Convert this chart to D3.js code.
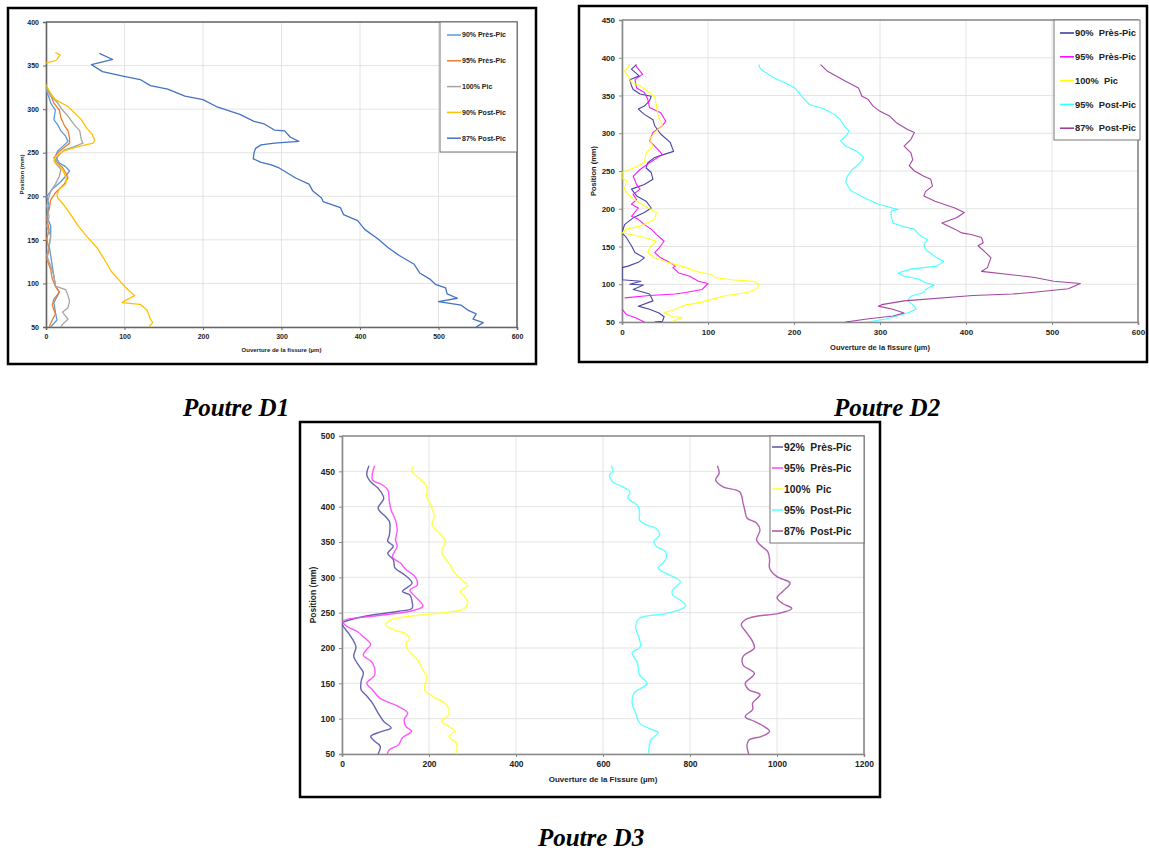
<!DOCTYPE html>
<html><head><meta charset="utf-8">
<script src="https://cdn.jsdelivr.net/npm/d3@7"></script>
<style>body{margin:0;background:#fff}svg{display:block}</style>
</head><body>
<svg id="c" width="1149" height="852"></svg>
<script>
// ---------- DATA : [position (mm), ouverture (µm)] ----------
// Poutre D1
const d1Labels = ["90% Près-Pic","95% Près-Pic","100% Pic","90% Post-Pic","87% Post-Pic"];
const d1_90pre = [[322,0],[313,4],[307,6],[299,12],[288,10],[282,15],[275,19],[269,25],[263,28],[257,21],[252,15],[246,12],[238,17],[234,25],[229,30],[223,25],[217,19],[208,8],[200,1],[189,4],[177,1],[166,6],[154,6],[143,4],[132,6],[120,8],[109,10],[97,12],[90,17],[78,10],[67,12],[58,14],[50,6]];
const d1_95pre = [[325,0],[316,6],[307,10],[299,17],[290,19],[282,23],[275,28],[267,30],[261,30],[256,23],[250,15],[244,10],[238,15],[233,21],[227,25],[221,28],[214,23],[204,12],[196,6],[185,4],[174,1],[162,4],[151,1],[139,4],[128,1],[116,6],[105,8],[97,12],[90,17],[82,10],[75,8],[65,12],[58,8],[50,4]];
const d1_100 = [[324,0],[315,6],[307,15],[299,21],[292,28],[282,36],[275,43],[265,45],[261,47],[257,36],[253,23],[246,15],[238,12],[231,19],[223,17],[214,12],[206,6],[200,4],[189,1],[177,4],[166,1],[154,6],[143,4],[132,1],[120,6],[109,10],[97,12],[93,25],[86,28],[80,30],[72,28],[67,21],[59,28],[53,21],[50,19]];
const d1_90post = [[365,12],[362,18],[360,16],[357,14],[355,10],[353,0],null,[328,0],[318,6],[311,12],[303,28],[296,36],[288,45],[278,52],[271,59],[264,62],[261,60],[257,41],[252,23],[246,12],[240,10],[235,17],[227,23],[220,26],[214,25],[208,17],[202,14],[198,15],[192,21],[181,30],[166,41],[154,52],[141,65],[128,74],[114,83],[103,94],[93,104],[86,113],[80,100],[78,97],[76,120],[69,129],[59,133],[55,136],[50,131]];
const d1_87post = [[364,68],[357,85],[351,58],[343,72],[338,98],[334,120],[327,133],[323,155],[315,177],[311,200],[303,217],[294,247],[286,265],[283,278],[276,291],[275,304],[268,311],[263,322],[261,291],[259,274],[255,267],[250,265],[243,264],[239,274],[236,287],[233,296],[227,307],[221,318],[214,335],[206,340],[198,351],[194,353],[187,375],[179,379],[172,397],[162,406],[151,423],[141,436],[132,450],[122,469],[112,476],[105,489],[99,496],[95,509],[88,511],[83,524],[79,500],[75,529],[69,538],[65,548],[59,544],[55,557],[50,548]];
const d1XTicks = [0,100,200,300,400,500,600];
const d1YTicks = [50,100,150,200,250,300,350,400];

// Poutre D2
const d2Labels = ["90%  Près-Pic","95%  Près-Pic","100%  Pic","95%  Post-Pic","87%  Post-Pic"];
const d2_90pre = [[391,17],[385,11],[376,20],[371,9],[363,11],[358,13],[352,21],[349,34],[343,32],[336,26],[332,19],[325,26],[318,36],[310,38],[299,45],[288,56],[276,60],[272,49],[268,38],[261,30],[254,28],[248,34],[239,36],[232,26],[226,11],[217,17],[210,28],[201,34],[195,26],[188,13],[179,3],[168,0],[162,5],[151,11],[142,15],[135,26],[129,19],[124,7],[122,0],[106,0],[104,22],[100,9],[99,25],[93,13],[89,26],[87,32],[78,36],[71,19],[67,32],[62,43],[57,49],[51,47],[50,38]];
const d2_95pre = [[391,15],[378,24],[371,15],[360,17],[354,26],[345,30],[334,32],[327,45],[316,51],[310,47],[301,36],[290,32],[283,38],[272,47],[261,32],[252,21],[243,13],[232,17],[226,21],[219,13],[212,17],[206,11],[201,19],[190,11],[186,19],[179,26],[173,34],[166,40],[157,49],[148,43],[142,38],[135,45],[129,55],[124,62],[122,59],[115,66],[111,78],[104,89],[101,100],[93,93],[89,74],[87,62],[85,32],[82,3],null,[67,0],[60,5],[56,15],[50,26]];
const d2_100 = [[391,9],[382,3],[376,7],[367,11],[363,21],[354,32],[349,38],[336,40],[323,42],[310,47],[301,38],[292,32],[283,36],[274,28],[261,26],[254,13],[248,0],[241,0],[237,5],[226,3],[219,7],[210,17],[199,34],[195,40],[186,38],[177,21],[173,5],[168,0],[166,11],[162,26],[157,40],[148,32],[142,30],[135,38],[129,53],[122,75],[117,87],[113,104],[109,108],[106,127],[104,152],[100,159],[94,157],[89,146],[85,121],[80,104],[76,91],[72,72],[67,62],[62,49],[57,59],[56,70],[50,57]];
const d2_95post = [[391,159],[385,161],[374,176],[365,193],[360,201],[349,209],[338,218],[332,235],[325,247],[318,254],[310,258],[303,264],[296,260],[290,254],[283,260],[276,273],[268,281],[261,277],[252,268],[243,262],[235,260],[224,266],[215,281],[206,298],[199,321],[197,313],[190,313],[181,315],[176,328],[173,340],[166,345],[159,355],[153,351],[146,353],[135,366],[130,374],[124,366],[120,336],[115,321],[111,328],[107,345],[102,353],[99,363],[93,353],[89,351],[84,336],[78,332],[73,338],[67,342],[62,332],[54,307],[50,285]];
const d2_87post = [[391,231],[382,239],[369,260],[360,275],[349,279],[345,286],[336,292],[329,300],[323,311],[314,319],[305,332],[301,340],[292,336],[283,328],[274,336],[265,338],[257,334],[250,340],[243,351],[239,359],[230,361],[223,353],[217,351],[210,364],[201,387],[195,398],[188,389],[181,372],[173,387],[168,395],[166,406],[162,418],[155,420],[151,414],[142,423],[135,429],[129,427],[122,425],[117,418],[113,450],[109,480],[104,502],[101,533],[94,519],[89,476],[87,454],[85,408],[78,328],[73,302],[71,298],[67,315],[62,328],[58,315],[54,285],[50,260]];
const d2XTicks = [0,100,200,300,400,500,600];
const d2YTicks = [50,100,150,200,250,300,350,400,450];

// Poutre D3
const d3Labels = ["92%  Près-Pic","95%  Près-Pic","100%  Pic","95%  Post-Pic","87%  Post-Pic"];
const d3_92pre = [[458,62],[445,57],[435,66],[426,83],[412,96],[398,83],[386,100],[379,109],[360,109],[351,105],[344,118],[334,105],[325,118],[313,122],[304,143],[292,161],[280,139],[275,156],[266,161],[256,161],[252,130],[245,53],[240,19],[235,0],[228,6],[221,15],[202,32],[188,27],[174,40],[165,49],[153,44],[141,44],[132,57],[122,70],[108,83],[96,96],[87,113],[82,92],[75,66],[68,75],[61,88],[50,83]];
const d3_95pre = [[458,75],[447,70],[438,70],[431,92],[424,105],[407,109],[395,113],[381,123],[367,127],[353,123],[344,127],[329,116],[320,135],[311,147],[301,168],[289,173],[282,156],[273,168],[259,186],[252,156],[245,70],[238,2],[231,10],[223,36],[216,49],[205,66],[198,57],[190,49],[179,70],[162,75],[150,57],[141,70],[129,87],[117,130],[108,151],[99,143],[89,147],[82,160],[73,139],[63,130],[56,109],[50,104]];
const d3_100 = [[458,165],[450,160],[440,178],[428,195],[414,195],[402,204],[386,212],[374,207],[362,225],[351,237],[336,229],[320,246],[306,259],[296,276],[289,289],[280,272],[273,281],[266,289],[256,281],[252,259],[245,156],[240,113],[233,100],[226,118],[221,143],[214,156],[207,147],[197,152],[183,174],[169,186],[160,195],[141,190],[129,216],[120,240],[106,246],[96,229],[89,246],[82,259],[75,246],[65,263],[50,263]];
const d3_95post = [[458,619],[450,623],[445,615],[435,623],[428,645],[421,662],[412,657],[402,679],[391,684],[381,684],[374,701],[369,722],[360,730],[351,717],[344,722],[336,744],[325,744],[313,727],[306,744],[294,778],[282,760],[275,760],[266,782],[259,790],[249,747],[242,684],[230,675],[212,684],[202,686],[197,675],[193,667],[179,679],[162,684],[150,701],[136,671],[122,667],[108,675],[94,684],[84,714],[80,727],[70,710],[50,705]];
const d3_87post = [[458,863],[447,867],[438,859],[428,876],[421,914],[405,922],[395,926],[384,931],[377,953],[367,961],[353,953],[346,961],[336,979],[325,983],[313,983],[301,1000],[292,1030],[280,1013],[271,1000],[263,1013],[256,1034],[249,1004],[245,953],[240,927],[233,918],[221,931],[209,944],[200,948],[188,922],[176,922],[164,948],[150,927],[141,935],[134,961],[122,944],[113,944],[103,927],[96,948],[89,970],[82,983],[75,965],[70,936],[63,931],[50,935]];
const d3XTicks = [0,200,400,600,800,1000,1200];
const d3YTicks = [50,100,150,200,250,300,350,400,450,500];

const titles = ["Poutre D1","Poutre D2","Poutre D3"];
const xTitles = ["Ouverture de la fissure (µm)","Ouverture de la fissure (µm)","Ouverture de la Fissure (µm)"];
const yTitle = "Position (mm)";

// ---------- STYLES ----------
const d1Colors = ["#5B9BD5","#ED7D31","#A5A5A5","#FFC000","#4472C4"];
const d2Colors = ["#333399","#FF00FF","#FFFF00","#33FFFF","#993399"];
const d3Colors = ["#5555A6","#FF44FF","#FFFF33","#55FFFF","#A850A8"];

const svg = d3.select("#c");
const FONT = "'Liberation Sans', Arial, sans-serif";
let clipId = 0;

function drawChart(o){
  const g = svg.append("g");
  g.append("rect").attr("x",o.frame[0]).attr("y",o.frame[1])
    .attr("width",o.frame[2]-o.frame[0]).attr("height",o.frame[3]-o.frame[1])
    .attr("fill","#fff").attr("stroke","#000").attr("stroke-width",2.5);
  const [L,T,R,B] = o.plot;
  const x = d3.scaleLinear().domain([o.xTicks[0],o.xTicks[o.xTicks.length-1]]).range([L,R]);
  const y = d3.scaleLinear().domain([o.yTicks[0],o.yTicks[o.yTicks.length-1]]).range([B,T]);
  g.append("g").selectAll("line").data(o.yTicks).join("line")
    .attr("x1",L).attr("x2",R).attr("y1",d=>y(d)).attr("y2",d=>y(d))
    .attr("stroke","#DDDDDD").attr("stroke-width",0.8);
  g.append("g").selectAll("line").data(o.xTicks).join("line")
    .attr("y1",T).attr("y2",B).attr("x1",d=>x(d)).attr("x2",d=>x(d))
    .attr("stroke","#DDDDDD").attr("stroke-width",0.8);
  const fmt = d3.format("d");
  const xa = g.append("g").attr("transform",`translate(0,${B})`)
    .call(d3.axisBottom(x).tickValues(o.xTicks).tickFormat(fmt).tickSize(3).tickPadding(4));
  const ya = g.append("g").attr("transform",`translate(${L},0)`)
    .call(d3.axisLeft(y).tickValues(o.yTicks).tickFormat(fmt).tickSize(3).tickPadding(4));
  [xa,ya].forEach(a=>{
    a.selectAll("path").attr("stroke",o.axisColor).attr("stroke-width",1.6);
    a.selectAll("line").attr("stroke",o.axisColor);
    a.selectAll("text").attr("font-family",FONT).attr("font-weight","bold")
      .attr("font-size",o.tickFont).attr("fill","#222");
  });
  g.append("path").attr("d",`M${L},${T}H${R}V${B}`).attr("fill","none")
    .attr("stroke",o.axisColor).attr("stroke-width",1.6);
  const cid = "clip"+(clipId++);
  g.append("clipPath").attr("id",cid).append("rect")
    .attr("x",L).attr("y",T-2).attr("width",R-L).attr("height",B-T+2);
  const line = d3.line().defined(d=>d!==null)
    .x(d=>x(d[1])).y(d=>y(d[0])).curve(o.curve);
  const lg = g.append("g").attr("clip-path",`url(#${cid})`);
  o.series.forEach((s,i)=>{
    lg.append("path").datum(s).attr("d",line).attr("fill","none")
      .attr("stroke",o.colors[i]).attr("stroke-width",o.lw)
      .attr("stroke-linejoin","round").attr("stroke-opacity",o.op);
  });
  const [lx0,ly0,lx1,ly1] = o.legend;
  g.append("rect").attr("x",lx0).attr("y",ly0).attr("width",lx1-lx0).attr("height",ly1-ly0)
    .attr("fill","#fff").attr("stroke","#777").attr("stroke-width",1);
  o.labels.forEach((lab,i)=>{
    const yy = o.legY0 + i*o.legDy;
    g.append("line").attr("x1",lx0+o.legLine[0]).attr("x2",lx0+o.legLine[1])
      .attr("y1",yy).attr("y2",yy).attr("stroke",o.colors[i]).attr("stroke-width",1.5);
    g.append("text").attr("x",lx0+o.legLine[1]+1).attr("y",yy).attr("dy","0.35em")
      .attr("font-family",FONT).attr("font-weight","bold").attr("font-size",o.legFont)
      .attr("fill","#222").style("white-space","pre").text(lab);
  });
  g.append("text").attr("x",(L+R)/2).attr("y",o.xTitleY).attr("text-anchor","middle")
    .attr("font-family",FONT).attr("font-weight","bold").attr("font-size",o.titleFont)
    .attr("fill","#222").text(o.xTitle);
  g.append("text").attr("transform",`translate(${o.yTitleX},${(T+B)/2}) rotate(-90)`)
    .attr("text-anchor","middle").attr("font-family",FONT).attr("font-weight","bold")
    .attr("font-size",o.yTitleFont).attr("fill","#222").text(yTitle);
  svg.append("text").attr("x",o.cap[0]).attr("y",o.cap[1]).attr("text-anchor","middle")
    .attr("font-family","'Liberation Serif','Times New Roman',serif").attr("font-weight","bold")
    .attr("font-style","italic").attr("font-size",25).attr("fill","#000").text(o.caption);
}

drawChart({frame:[8,8,536,364], plot:[46,22,517,327], xTicks:d1XTicks, yTicks:d1YTicks,
  series:[d1_90pre,d1_95pre,d1_100,d1_90post,d1_87post], colors:d1Colors, labels:d1Labels,
  curve:d3.curveLinear, lw:1.3, op:1, axisColor:"#666", tickFont:7,
  legend:[440,22,517,152], legY0:35, legDy:25.8, legLine:[7,21], legFont:7,
  xTitle:xTitles[0], xTitleY:352, yTitleX:24, titleFont:6, yTitleFont:6,
  caption:titles[0], cap:[236,416]});

drawChart({frame:[579,6,1147,362], plot:[622,20,1138,322], xTicks:d2XTicks, yTicks:d2YTicks,
  series:[d2_90pre,d2_95pre,d2_100,d2_95post,d2_87post], colors:d2Colors, labels:d2Labels,
  curve:d3.curveLinear, lw:1.1, op:0.9, axisColor:"#888", tickFont:8,
  legend:[1054,20,1140,140], legY0:33, legDy:23.8, legLine:[6,20], legFont:9.3,
  xTitle:xTitles[1], xTitleY:350, yTitleX:596, titleFont:7.5, yTitleFont:7.5,
  caption:titles[1], cap:[887,416]});

drawChart({frame:[300,422,880,797], plot:[342,436,864,754], xTicks:d3XTicks, yTicks:d3YTicks,
  series:[d3_92pre,d3_95pre,d3_100,d3_95post,d3_87post], colors:d3Colors, labels:d3Labels,
  curve:d3.curveCatmullRom.alpha(0.5), lw:1.4, op:0.9, axisColor:"#888", tickFont:8.5,
  legend:[770,436,864,543], legY0:447, legDy:21, legLine:[2,13], legFont:10.3,
  xTitle:xTitles[2], xTitleY:782, yTitleX:316, titleFont:8, yTitleFont:8.5,
  caption:titles[2], cap:[591,846]});
</script>
</body></html>
